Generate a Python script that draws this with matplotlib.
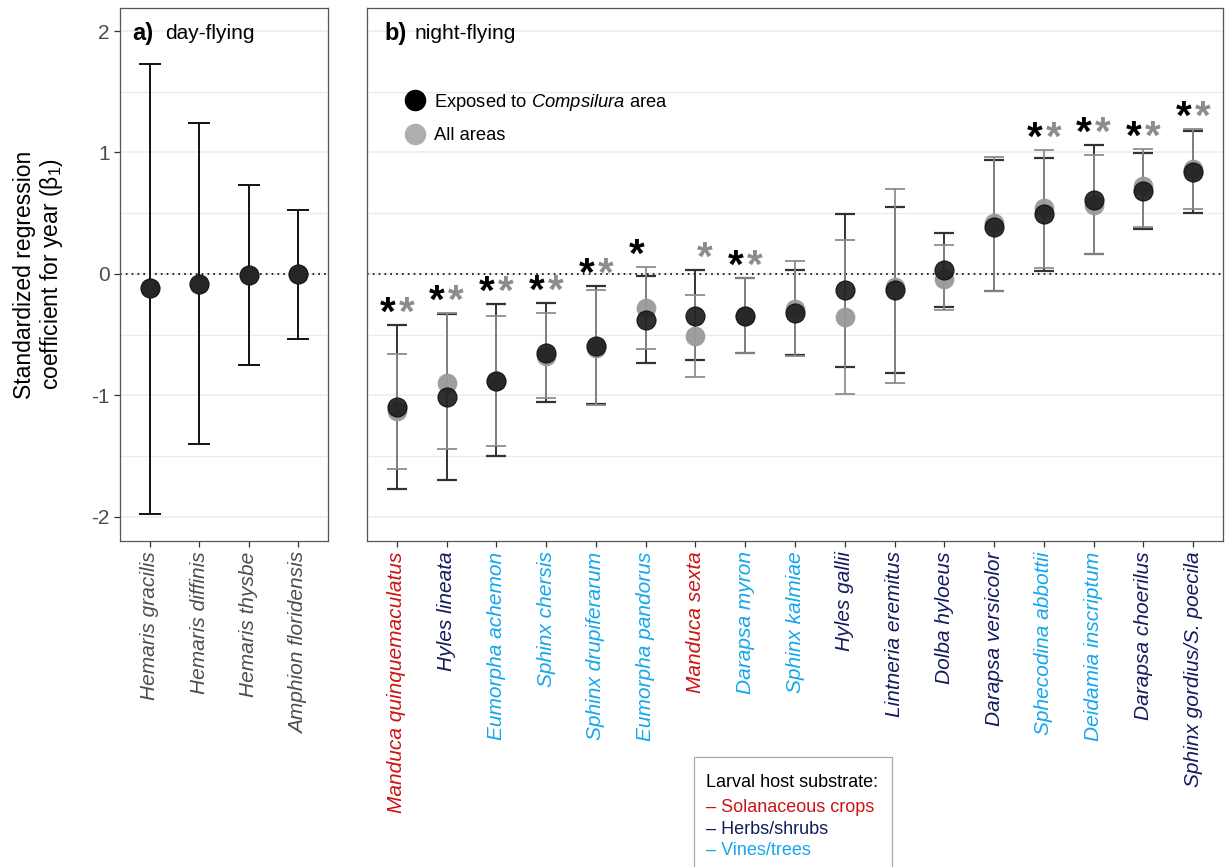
import matplotlib
matplotlib.use("Agg")
import matplotlib.pyplot as plt
from matplotlib.lines import Line2D
from matplotlib.patches import Rectangle
import numpy as np

plt.rcParams['font.family'] = ['Liberation Sans', 'DejaVu Sans']
plt.rcParams['mathtext.fontset'] = 'custom'
plt.rcParams['mathtext.rm'] = 'Liberation Sans'
plt.rcParams['mathtext.it'] = 'Liberation Sans:italic'

# panel a: day-flying
day_species = ["Hemaris gracilis", "Hemaris diffinis", "Hemaris thysbe", "Amphion floridensis"]
day_est = [-0.12, -0.08, -0.01, 0.0]
day_lo = [-1.98, -1.40, -0.75, -0.54]
day_hi = [1.73, 1.24, 0.73, 0.53]

# panel b: night-flying
night_species = ["Manduca quinquemaculatus", "Hyles lineata", "Eumorpha achemon", "Sphinx chersis",
                 "Sphinx drupiferarum", "Eumorpha pandorus", "Manduca sexta", "Darapsa myron",
                 "Sphinx kalmiae", "Hyles gallii", "Lintneria eremitus", "Dolba hyloeus",
                 "Darapsa versicolor", "Sphecodina abbottii", "Deidamia inscriptum",
                 "Darapsa choerilus", "Sphinx gordius/S. poecila"]
host = ["crop", "herb", "vine", "vine", "vine", "vine", "crop", "vine", "vine",
        "herb", "herb", "herb", "herb", "vine", "vine", "herb", "herb"]

exp_est = [-1.10, -1.01, -0.88, -0.65, -0.59, -0.38, -0.345, -0.345, -0.32, -0.135, -0.135,
           0.035, 0.39, 0.49, 0.61, 0.685, 0.835]
exp_lo = [-1.77, -1.70, -1.50, -1.055, -1.07, -0.73, -0.71, -0.655, -0.67, -0.77, -0.82,
          -0.275, -0.14, 0.025, 0.165, 0.37, 0.50]
exp_hi = [-0.42, -0.33, -0.25, -0.24, -0.10, -0.02, 0.03, -0.03, 0.03, 0.495, 0.55,
          0.34, 0.94, 0.955, 1.06, 0.995, 1.175]

all_est = [-1.13, -0.90, -0.88, -0.68, -0.61, -0.28, -0.51, -0.35, -0.29, -0.355, -0.11,
           -0.04, 0.42, 0.545, 0.57, 0.72, 0.865]
all_lo = [-1.61, -1.44, -1.42, -1.02, -1.08, -0.615, -0.85, -0.655, -0.68, -0.99, -0.895,
          -0.30, -0.14, 0.045, 0.165, 0.39, 0.535]
all_hi = [-0.66, -0.32, -0.345, -0.32, -0.135, 0.06, -0.175, -0.03, 0.105, 0.275, 0.695,
          0.24, 0.96, 1.02, 0.98, 1.03, 1.195]

sig_exp = [1, 1, 1, 1, 1, 1, 0, 1, 0, 0, 0, 0, 0, 1, 1, 1, 1]
sig_all = [1, 1, 1, 1, 1, 0, 1, 1, 0, 0, 0, 0, 0, 1, 1, 1, 1]

host_colors = {"crop": "#cc1414", "herb": "#141a5e", "vine": "#14a6ee"}
host_names = [("crop", "Solanaceous crops"), ("herb", "Herbs/shrubs"), ("vine", "Vines/trees")]

fig = plt.figure(figsize=(12.28, 8.67), dpi=100)
ax_a = fig.add_axes([0.0977, 0.376, 0.1694, 0.6148])
ax_b = fig.add_axes([0.2989, 0.376, 0.697, 0.6148])

ylim = (-2.2, 2.19)
for ax in (ax_a, ax_b):
    ax.set_ylim(*ylim)
    ax.set_yticks([-2, -1, 0, 1, 2])
    ax.set_yticks([-1.5, -0.5, 0.5, 1.5], minor=True)
    ax.grid(axis='y', which='major', color='#ebebeb', lw=1.1, zorder=0)
    ax.grid(axis='y', which='minor', color='#ebebeb', lw=0.9, zorder=0)
    ax.grid(axis='x', visible=False)
    ax.axhline(0, color='black', ls=(0, (1, 2.5)), lw=1.2, zorder=1)
    for s in ax.spines.values():
        s.set_color('#555555')
        s.set_linewidth(0.9)
    ax.tick_params(axis='both', which='major', direction='out', length=4, width=0.9,
                   color='#333333', labelsize=15, labelcolor='#4d4d4d')
    ax.tick_params(axis='y', which='minor', length=0)
    ax.set_axisbelow(True)

# panel a
xa = np.arange(1, len(day_species) + 1)
est = np.array(day_est)
ax_a.errorbar(xa, est, yerr=[est - np.array(day_lo), np.array(day_hi) - est], fmt='none',
              ecolor='#111111', elinewidth=1.4, capsize=8, capthick=1.4, zorder=2)
ax_a.scatter(xa, est, s=19 ** 2 * 0.52, color='#262626', edgecolor='#111111', linewidth=0.8, zorder=3)
ax_a.set_xlim(0.4, len(day_species) + 0.6)
ax_a.set_xticks(xa)
ax_a.set_xticklabels(day_species, rotation=90, style='italic', fontsize=15, color='#4d4d4d')
ax_a.set_yticklabels(['-2', '-1', '0', '1', '2'])
ax_a.set_ylabel("Standardized regression\ncoefficient for year ($\\mathrm{\\beta}_1$)",
                fontsize=16.5, color='black', labelpad=19, linespacing=1.1)
ax_a.text(0.06, 0.953, "a)", transform=ax_a.transAxes, fontsize=17, fontweight='bold', va='center')
ax_a.text(0.215, 0.953, "day-flying", transform=ax_a.transAxes, fontsize=15, va='center')

# panel b
xb = np.arange(1, len(night_species) + 1)
e1 = np.array(exp_est)
e2 = np.array(all_est)
ax_b.errorbar(xb, e1, yerr=[e1 - np.array(exp_lo), np.array(exp_hi) - e1], fmt='none',
              ecolor='#333333', elinewidth=1.4, capsize=7, capthick=1.6, zorder=2)
ax_b.errorbar(xb, e2, yerr=[e2 - np.array(all_lo), np.array(all_hi) - e2], fmt='none',
              ecolor='#8a8a8a', elinewidth=1.4, capsize=7, capthick=1.4, alpha=0.9, zorder=2.5)
ax_b.scatter(xb, e2, s=19 ** 2 * 0.52, color='#9a9898', edgecolor='#9a9898', linewidth=0.5,
             alpha=0.95, zorder=3)
ax_b.scatter(xb, e1, s=19 ** 2 * 0.52, color='#1e1e1e', edgecolor='#0d0d0d', linewidth=0.8,
             alpha=0.92, zorder=4)

top = np.maximum(np.array(exp_hi), np.array(all_hi))
for i in range(len(night_species)):
    if sig_exp[i]:
        ax_b.text(xb[i] - 0.19, top[i], "*", color='black', fontsize=29,
                  fontweight='bold', ha='center', va='baseline', zorder=5)
    if sig_all[i]:
        ax_b.text(xb[i] + 0.19, top[i], "*", color='#8c8c8c', fontsize=29,
                  fontweight='bold', ha='center', va='baseline', zorder=5)

ax_b.set_xlim(0.4, len(night_species) + 0.6)
ax_b.set_xticks(xb)
ax_b.set_xticklabels(night_species, rotation=90, style='italic', fontsize=15)
for lab, h in zip(ax_b.get_xticklabels(), host):
    lab.set_color(host_colors[h])
ax_b.tick_params(axis='y', which='both', left=False, labelleft=False)
ax_b.text(0.02, 0.953, "b)", transform=ax_b.transAxes, fontsize=17, fontweight='bold', va='center')
ax_b.text(0.056, 0.953, "night-flying", transform=ax_b.transAxes, fontsize=15, va='center')

handles = [Line2D([], [], ls='none', marker='o', markersize=14.5, color='black'),
           Line2D([], [], ls='none', marker='o', markersize=14.5, color='#b0adad')]
ax_b.legend(handles, ["Exposed to $\\it{Compsilura}$ area", "All areas"], loc='upper left',
            bbox_to_anchor=(0.035, 0.857), frameon=False, fontsize=13.2,
            handletextpad=0.4, labelspacing=0.8, borderaxespad=0, handlelength=1.2)

# host legend box
fig.patches.append(Rectangle((0.565, -0.05), 0.1615, 0.177, transform=fig.transFigure,
                             facecolor='white', edgecolor='#aaaaaa', lw=0.9))
fig.text(0.575, 0.098, "Larval host substrate:", fontsize=13, va='center', color='black')
ys = [0.069, 0.0427, 0.0185]
for (k, name), yy in zip(host_names, ys):
    fig.text(0.575, yy, "\u2013 " + name, fontsize=13, va='center', color=host_colors[k])

fig.savefig("out.png", dpi=100)
